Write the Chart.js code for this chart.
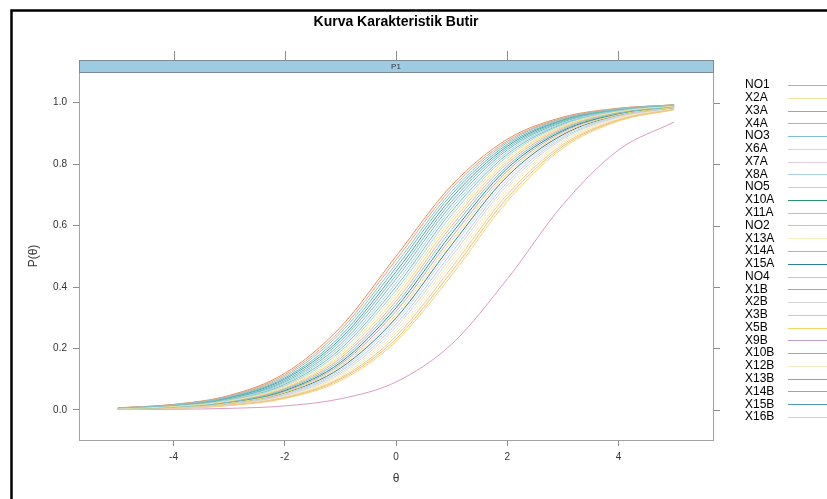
<!DOCTYPE html>
<html>
<head>
<meta charset="utf-8">
<script src="https://cdn.jsdelivr.net/npm/chart.js@4"></script>
<style>
  html, body { margin: 0; padding: 0; background: #fff; }
  #wrap { width: 827px; height: 499px; }
</style>
</head>
<body>
<div id="wrap"><canvas id="iccChart" width="827" height="499"></canvas></div>
<script>
// ability scale points and axis ticks
const theta = [-5, -4, -3, -2, -1, 0, 1, 2, 3, 4, 5];
const xTicks = [-4, -2, 0, 2, 4];
const yTicks = [0, 0.2, 0.4, 0.6, 0.8, 1.0];

// item names, in legend order
const items = ['NO1', 'X2A', 'X3A', 'X4A', 'NO3', 'X6A', 'X7A', 'X8A', 'NO5', 'X10A',
  'X11A', 'NO2', 'X13A', 'X14A', 'X15A', 'NO4', 'X1B', 'X2B', 'X3B', 'X5B', 'X9B',
  'X10B', 'X12B', 'X13B', 'X14B', 'X15B', 'X16B'];

// P(theta), one array per item
const pNO1  = [.006, .016, .043, .109, .250, .475, .711, .870, .948, .980, .993];
const pX2A  = [.004, .011, .029, .076, .182, .378, .622, .818, .924, .971, .989];
const pX3A  = [.005, .014, .037, .095, .223, .438, .679, .852, .940, .977, .991];
const pX4A  = [.006, .017, .045, .114, .259, .488, .721, .875, .950, .981, .993];
const pNO3  = [.004, .009, .025, .066, .161, .343, .587, .794, .913, .966, .987];
const pX6A  = [.003, .008, .022, .057, .142, .310, .550, .769, .900, .961, .985];
const pX7A  = [.003, .007, .020, .052, .130, .289, .525, .750, .891, .957, .984];
const pX8A  = [.004, .012, .031, .079, .190, .389, .634, .825, .928, .972, .990];
const pNO5  = [.002, .006, .016, .041, .104, .240, .463, .701, .864, .945, .979];
const pX10A = [.003, .009, .024, .063, .154, .332, .574, .786, .909, .964, .987];
const pX11A = [.004, .010, .027, .069, .168, .354, .599, .802, .917, .968, .988];
const pNO2  = [.005, .013, .034, .087, .206, .413, .657, .839, .934, .975, .991];
const pX13A = [.002, .006, .016, .043, .109, .250, .475, .711, .870, .948, .980];
const pX14A = [.001, .002, .005, .013, .036, .091, .214, .426, .668, .846, .937];
const pX15A = [.003, .008, .021, .055, .136, .299, .537, .760, .896, .959, .984];
const pNO4  = [.002, .005, .015, .039, .100, .231, .450, .690, .858, .943, .978];
const pX1B  = [.004, .012, .032, .083, .198, .401, .646, .832, .931, .973, .990];
const pX2B  = [.002, .007, .018, .047, .119, .269, .500, .731, .881, .953, .982];
const pX3B  = [.003, .007, .019, .050, .125, .279, .512, .741, .886, .955, .983];
const pX5B  = [.004, .010, .028, .072, .175, .366, .611, .810, .921, .969, .988];
const pX9B  = [.003, .009, .023, .060, .148, .321, .562, .777, .905, .963, .986];
const pX10B = [.005, .013, .036, .091, .214, .426, .668, .846, .937, .976, .991];
const pX12B = [.002, .006, .017, .045, .114, .259, .488, .721, .875, .950, .981];
const pX13B = [.006, .016, .041, .104, .240, .463, .701, .864, .945, .979, .992];
const pX14B = [.007, .018, .047, .119, .269, .500, .731, .881, .953, .982, .993];
const pX15B = [.005, .015, .039, .100, .231, .450, .690, .858, .943, .978, .992];
const pX16B = [.002, .005, .014, .037, .095, .223, .438, .679, .852, .940, .977];

const curves = [pNO1, pX2A, pX3A, pX4A, pNO3, pX6A, pX7A, pX8A, pNO5, pX10A,
  pX11A, pNO2, pX13A, pX14A, pX15A, pNO4, pX1B, pX2B, pX3B, pX5B, pX9B,
  pX10B, pX12B, pX13B, pX14B, pX15B, pX16B];

const lineColors = ['#86c3d0', '#eee49c', '#6cbfae', '#f0a080', '#7ebfd0', '#f0dc6c',
  '#ddd0de', '#a8d0e2', '#f4c68e', '#2a9072', '#e8ae9c', '#a6cee2', '#f2eebc',
  '#dc9cc4', '#2f7fa0', '#f0c06c', '#70c0b0', '#d6d6d6', '#acd6e8', '#f2d66c',
  '#bfa0d2', '#76b6c8', '#f2eac4', '#66b8a6', '#e68e5c', '#4c98b8', '#f2d676'];

const FONT = "'Liberation Sans', Arial, sans-serif";

const latticeDecor = {
  id: 'latticeDecor',
  beforeDraw(chart) {
    const ctx = chart.ctx;
    ctx.save();
    ctx.fillStyle = '#fff';
    ctx.fillRect(0, 0, chart.width, chart.height);
    ctx.restore();
  },
  afterDraw(chart) {
    const { ctx, chartArea: a, scales: { x, y } } = chart;
    ctx.save();

    // panel box
    ctx.strokeStyle = '#a3a3a3';
    ctx.lineWidth = 1;
    ctx.strokeRect(a.left + 0.5, a.top + 0.5, a.right - a.left, a.bottom - a.top);

    // strip
    const stripTop = a.top - 12;
    ctx.fillStyle = '#9ecae2';
    ctx.fillRect(a.left, stripTop, a.right - a.left, 12);
    ctx.strokeStyle = '#7a8c96';
    ctx.strokeRect(a.left + 0.5, stripTop + 0.5, a.right - a.left, 12);
    ctx.fillStyle = '#333';
    ctx.font = '8px ' + FONT;
    ctx.textAlign = 'center';
    ctx.textBaseline = 'middle';
    ctx.fillText('P1', (a.left + a.right) / 2, stripTop + 6.5);

    // ticks on top and right sides
    ctx.strokeStyle = '#8c8c8c';
    ctx.beginPath();
    xTicks.forEach(v => {
      const px = Math.round(x.getPixelForValue(v)) + 0.5;
      ctx.moveTo(px, stripTop);
      ctx.lineTo(px, stripTop - 9);
    });
    yTicks.forEach(v => {
      const py = Math.round(y.getPixelForValue(v)) + 0.5;
      ctx.moveTo(a.right + 1, py);
      ctx.lineTo(a.right + 7, py);
    });
    ctx.stroke();

    // title
    ctx.fillStyle = '#000';
    ctx.font = 'bold 14px ' + FONT;
    ctx.textAlign = 'center';
    ctx.fillText('Kurva Karakteristik Butir', (a.left + a.right) / 2, 22);

    // legend: text on the left, line key on the right
    ctx.font = '12px ' + FONT;
    ctx.textAlign = 'left';
    chart.data.datasets.forEach((ds, i) => {
      const ly = 85 + i * 12.77;
      ctx.fillStyle = '#000';
      ctx.fillText(ds.label, 745, ly);
      ctx.strokeStyle = ds.borderColor;
      ctx.beginPath();
      ctx.moveTo(788, Math.round(ly) + 0.5);
      ctx.lineTo(830, Math.round(ly) + 0.5);
      ctx.stroke();
    });

    // outer frame
    ctx.strokeStyle = '#000';
    ctx.lineWidth = 2.5;
    ctx.strokeRect(11.5, 10.5, 1000, 1000);
    ctx.restore();
  }
};

const ctx = document.getElementById('iccChart').getContext('2d');
const iccChart = new Chart(ctx, {
  type: 'line',
  data: {
    datasets: items.map((name, i) => ({
      label: name,
      data: theta.map((t, j) => ({ x: t, y: curves[i][j] })),
      borderColor: lineColors[i],
      borderWidth: 1,
      pointRadius: 0,
      fill: false,
      cubicInterpolationMode: 'monotone'
    }))
  },
  options: {
    responsive: false,
    animation: false,
    devicePixelRatio: 1,
    layout: { padding: { left: 0, top: 72, right: 114, bottom: 0 } },
    plugins: { legend: { display: false }, tooltip: { enabled: false } },
    scales: {
      x: {
        type: 'linear',
        min: -5.7,
        max: 5.7,
        afterBuildTicks: s => { s.ticks = xTicks.map(v => ({ value: v })); },
        afterFit: s => { s.height = 59; },
        grid: { drawOnChartArea: false, drawTicks: true, tickLength: 6, color: '#8c8c8c' },
        border: { display: false },
        ticks: { font: { family: FONT, size: 10 }, color: '#333', padding: 5, maxRotation: 0, autoSkip: false },
        title: { display: true, text: 'θ', font: { family: FONT, size: 12 }, color: '#333', padding: { top: 0, bottom: 13 } }
      },
      y: {
        min: -0.098,
        max: 1.1,
        afterBuildTicks: s => { s.ticks = yTicks.map(v => ({ value: v })); },
        afterFit: s => { s.width = 79; },
        grid: { drawOnChartArea: false, drawTicks: true, tickLength: 6, color: '#8c8c8c' },
        border: { display: false },
        ticks: { font: { family: FONT, size: 10 }, color: '#333', padding: 6, callback: v => v.toFixed(1) },
        title: { display: true, text: 'P(θ)', font: { family: FONT, size: 12 }, color: '#333', padding: { top: 26, bottom: 0 } }
      }
    }
  },
  plugins: [latticeDecor]
});
</script>
</body>
</html>
